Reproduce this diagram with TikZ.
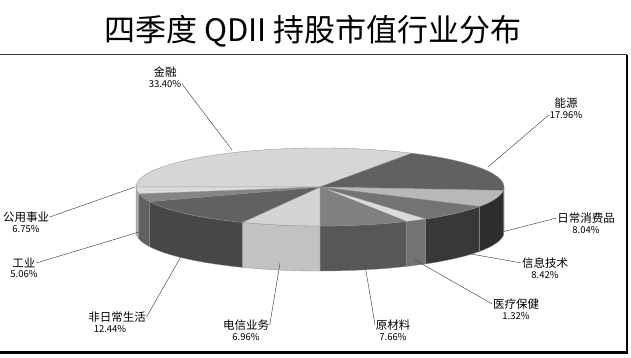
\documentclass[tikz,border=0pt]{standalone}
\usepackage{fontspec}
\setmainfont{Noto Sans CJK SC}
\usetikzlibrary{calc,positioning}

\def\pierx{184pt}
\def\piery{39pt}
\def\piedepth{45pt}

\begin{document}
\begin{tikzpicture}[x=1pt,y=1pt,
    sectorname/.style={inner sep=0.5pt,font=\fontsize{11.5}{12}\selectfont},
    sectorval/.style={inner sep=0.5pt,font=\fontsize{9.5}{11}\selectfont},
    leader/.style={black!75,line width=0.45pt},
    rim/.style={draw=black!45,line width=0.3pt}]

    \useasboundingbox (0,0) rectangle (631,357);

    % Title
    \node[font=\fontsize{31}{34}\selectfont] (title) at (313,326) {四季度 QDII 持股市值行业分布};

    % Frame round the chart
    \draw[line width=1.2pt,black!80] (0,302.5) -- (627,302.5);
    \draw[line width=2pt] (627,302.5) -- (627,4);
    \draw[line width=2.6pt] (0,4.5) -- (628,4.5);

    % Centre of the pie
    \coordinate (C) at (320,170);

    % Side walls of the front slices
    \foreach \a/\b/\shade in {0/-5/72,-5/-30/82,-30/-55/78,-55/-62/55,-62/-90/66,
                              -90/-115/24,-115/-158/72,-158/-170/62,-170/-180/32}{
        \filldraw[rim,fill=black!\shade] ($(C)+(\a:184pt and 39pt)$)
            arc[start angle=\a,end angle=\b,x radius=\pierx,y radius=\piery]
            -- ++(0,-\piedepth)
            arc[start angle=\b,end angle=\a,x radius=\pierx,y radius=\piery] -- cycle;
    }

    % Top faces of all slices
    \foreach \a/\b/\shade in {180/60/16,60/-5/62,-5/-30/28,-30/-55/55,-55/-62/14,
                              -62/-90/50,-90/-115/17,-115/-158/62,-158/-170/48,-170/-180/14}{
        \filldraw[rim,fill=black!\shade] (C) -- ($(C)+(\a:184pt and 39pt)$)
            arc[start angle=\a,end angle=\b,x radius=\pierx,y radius=\piery] -- cycle;
    }

    % Points where the leaders meet the pie
    \coordinate (p-jr) at (232,207);
    \coordinate (p-ny) at (488,190);
    \coordinate (p-rc) at (502,125);
    \coordinate (p-xx) at (460,105);
    \coordinate (p-yl) at (415,97);
    \coordinate (p-ycl) at (365,92);
    \coordinate (p-dx) at (280,94);
    \coordinate (p-fr) at (183,104);
    \coordinate (p-gy) at (139,125);
    \coordinate (p-gg) at (135,170);

    % Labels
    \node[sectorname] (jr) at (165,285) {金融};
    \node[sectorval,below=1.5pt of jr] (jr-v) {33.40\%};
    \node[sectorname] (ny) at (566,254) {能源};
    \node[sectorval,below=1.5pt of ny] (ny-v) {17.96\%};
    \node[sectorname] (rc) at (586,139) {日常消费品};
    \node[sectorval,below=1.5pt of rc] (rc-v) {8.04\%};
    \node[sectorname] (xx) at (545,94) {信息技术};
    \node[sectorval,below=1.5pt of xx] (xx-v) {8.42\%};
    \node[sectorname] (yl) at (516,53) {医疗保健};
    \node[sectorval,below=1.5pt of yl] (yl-v) {1.32\%};
    \node[sectorname] (ycl) at (393,32) {原材料};
    \node[sectorval,below=1.5pt of ycl] (ycl-v) {7.66\%};
    \node[sectorname] (dx) at (246,32) {电信业务};
    \node[sectorval,below=1.5pt of dx] (dx-v) {6.96\%};
    \node[sectorname] (fr) at (117,40) {非日常生活};
    \node[sectorval,below=1.5pt of fr,xshift=-7pt] (fr-v) {12.44\%};
    \node[sectorname] (gy) at (24,94) {工业};
    \node[sectorval,below=1.5pt of gy] (gy-v) {5.06\%};
    \node[sectorname] (gg) at (26,140) {公用事业};
    \node[sectorval,below=1.5pt of gg] (gg-v) {6.75\%};

    % Leaders
    \draw[leader] (jr-v.east) -- (p-jr);
    \draw[leader] (ny-v.west) -- (p-ny);
    \draw[leader] (rc.west) -- (p-rc);
    \draw[leader] (xx.west) -- (p-xx);
    \draw[leader] (yl.west) -- (p-yl);
    \draw[leader] (ycl.west) -- (p-ycl);
    \draw[leader] (dx.east) -- (p-dx);
    \draw[leader] (fr.east) -- (p-fr);
    \draw[leader] (gy.east) -- (p-gy);
    \draw[leader] (gg.east) -- (p-gg);

\end{tikzpicture}
\end{document}
